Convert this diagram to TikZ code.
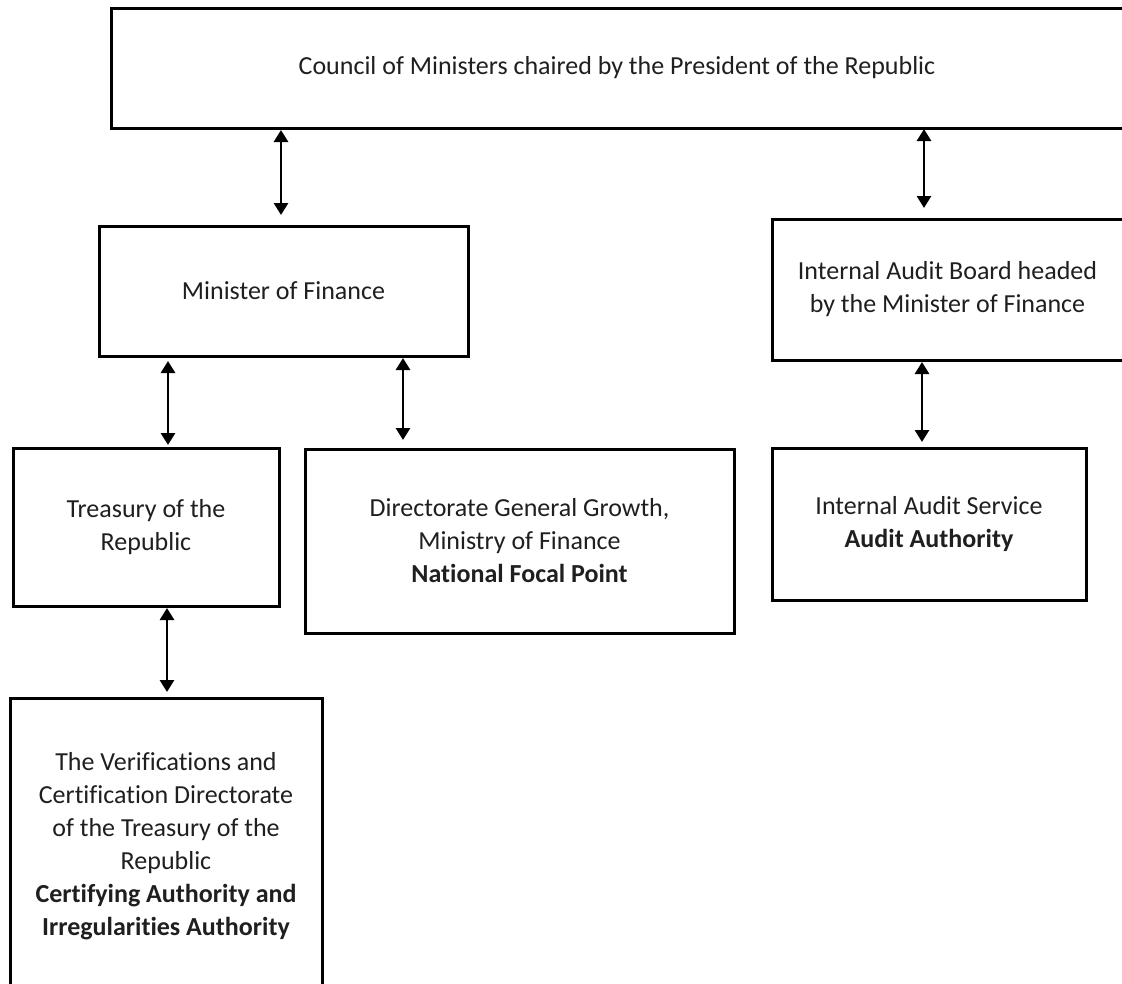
\documentclass[tikz,border=0pt]{standalone}
\usepackage{fontspec}
\setmainfont[RawFeature={-liga}]{Carlito}
\usetikzlibrary{arrows.meta}
\tikzset{
  orgbox/.style={draw=black, line width=3pt, outer sep=0pt, inner sep=0pt,
    align=center, text=black!88, font=\fontsize{26}{33}\selectfont},
  biarrow/.style={line width=2.8pt,
    {Triangle[width=14pt,length=12pt]}-{Triangle[width=14pt,length=12pt]}}
}
\begin{document}
\begin{tikzpicture}[x=1pt,y=-1pt]
\useasboundingbox (0,0) rectangle (1122,983);
\clip (0,0) rectangle (1122,983);
\fill[white] (0,0) rectangle (1122,983);

\node[orgbox, minimum width=1012pt, minimum height=120pt] (council) at (617,68)
  {Council of Ministers chaired by the President of the Republic};
\node[orgbox, minimum width=369pt, minimum height=130pt] (minister) at (283.5,291)
  {Minister of Finance};
\node[orgbox, minimum width=351pt, minimum height=141pt] (iab) at (947.5,289.5)
  {Internal Audit Board headed\\by the Minister of Finance};
\node[orgbox, minimum width=266pt, minimum height=158pt] (treasury) at (146,527)
  {Treasury of the\\Republic};
\node[orgbox, minimum width=429pt, minimum height=184pt] (dir) at (519.5,541)
  {Directorate General Growth,\\Ministry of Finance\\\textbf{National Focal Point}};
\node[orgbox, minimum width=314pt, minimum height=152pt] (ias) at (929,524)
  {Internal Audit Service\\\textbf{Audit Authority}};
\node[orgbox, minimum width=312pt, minimum height=296pt] (verif) at (166,846)
  {The Verifications and\\Certification Directorate\\of the Treasury of the\\Republic\\
   \textbf{Certifying Authority and}\\\textbf{Irregularities Authority}};

% connectors
\draw[biarrow, shorten <=2pt, shorten >=11pt]
  ([xshift=-2.5pt]minister.north |- council.south) -- ([xshift=-2.5pt]minister.north);
\coordinate (iabtop) at ([xshift=-23.5pt]iab.north);
\draw[biarrow, shorten <=1pt, shorten >=11pt]
  (iabtop |- council.south) -- (iabtop);
\draw[biarrow, shorten <=5pt, shorten >=3pt]
  ([xshift=-115.5pt]minister.south) -- ([xshift=22pt]treasury.north);
\draw[biarrow, shorten <=2pt, shorten >=9pt]
  ([xshift=119.5pt]minister.south) -- ([xshift=-116.5pt]dir.north);
\draw[biarrow, shorten <=2pt, shorten >=6pt]
  ([xshift=-25.5pt]iab.south) -- ([xshift=-7pt]ias.north);
\draw[biarrow, shorten <=2pt, shorten >=6pt]
  ([xshift=21pt]treasury.south) -- ([xshift=1pt]verif.north);
\end{tikzpicture}
\end{document}
